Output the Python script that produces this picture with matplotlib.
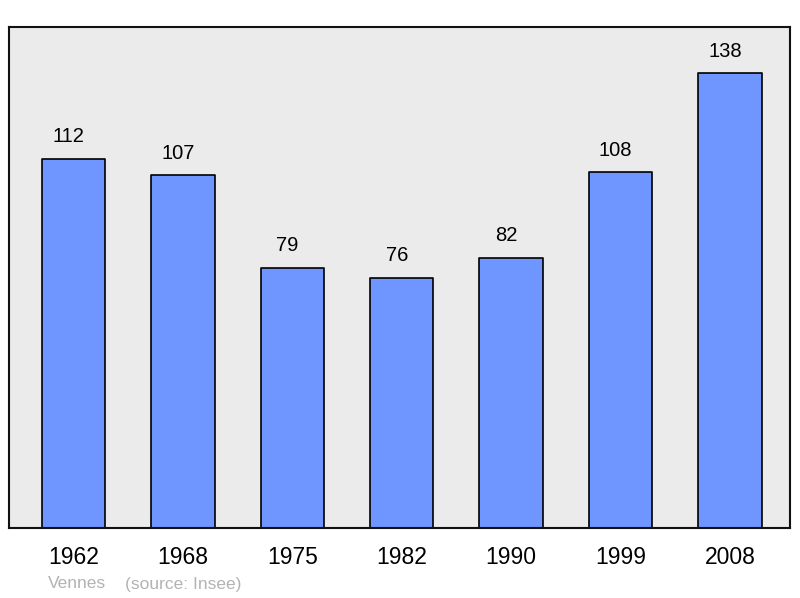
import matplotlib
matplotlib.use('Agg')
import matplotlib.pyplot as plt

years = ['1962', '1968', '1975', '1982', '1990', '1999', '2008']
population = [112, 107, 79, 76, 82, 108, 138]
place = 'Vennes'
source = '(source: Insee)'

plt.rcParams['font.family'] = ['Liberation Sans', 'DejaVu Sans']

fig = plt.figure(figsize=(8, 5.98), dpi=100)
ax = fig.add_axes([9 / 800, 1 - 528 / 598, 781 / 800, 501 / 598])
ax.set_facecolor('#ebebeb')

xs = range(len(years))
bars = ax.bar(xs, population, width=0.58, color='#6f95ff', edgecolor='black',
              linewidth=1.2, joinstyle='round')

for x, v in zip(xs, population):          # value labels above bars
    ax.annotate(str(v), (x, v), xytext=(-3.5, 9), textcoords='offset points',
                ha='center', va='bottom', fontsize=14.5)

ax.set_xlim(-0.59, 6.55)
ax.set_ylim(0, 152)
ax.set_yticks([])
ax.set_xticks(list(xs))
ax.set_xticklabels(years, fontsize=16.5)
ax.tick_params(axis='x', length=0, pad=13)

for s in ax.spines.values():
    s.set_linewidth(1.5)
    s.set_color('#111111')

fig.text(48 / 800, 1 - 584 / 598, place, color='#b3b3b3', fontsize=12.5, va='center')
fig.text(125 / 800, 1 - 584 / 598, source, color='#b3b3b3', fontsize=12.5, va='center')

fig.savefig('out.png', dpi=100)
